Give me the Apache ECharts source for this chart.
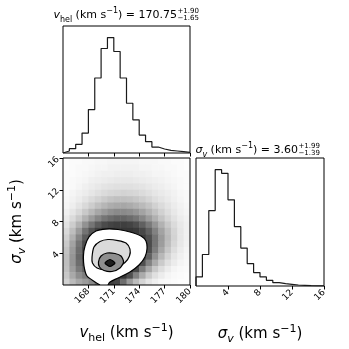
<!DOCTYPE html>
<html>
<head>
<meta charset="utf-8">
<script src="https://cdn.jsdelivr.net/npm/echarts@6/dist/echarts.min.js"></script>
<style>
  html, body { margin: 0; padding: 0; background: #fff; }
  #chart { width: 349px; height: 349px; }
</style>
</head>
<body>
<div id="chart"></div>
<script>
// bin edges (20 bins each, as in the corner plot)
const vEdges = [165, 165.75, 166.5, 167.25, 168, 168.75, 169.5, 170.25, 171, 171.75, 172.5,
  173.25, 174, 174.75, 175.5, 176.25, 177, 177.75, 178.5, 179.25, 180];
const sEdges = [0, 0.8, 1.6, 2.4, 3.2, 4, 4.8, 5.6, 6.4, 7.2, 8,
  8.8, 9.6, 10.4, 11.2, 12, 12.8, 13.6, 14.4, 15.2, 16];

// marginal histograms (relative counts)
const vCounts = [6, 13, 26, 60, 131, 226, 315, 348, 306, 226, 150, 100, 54, 34, 18, 12, 8, 6, 4, 2];
const sCounts = [27, 94, 225, 347, 336, 257, 177, 113, 67, 40, 27, 17, 10, 7, 5, 3, 2, 1, 0.5, 0.3];

const vTicks = [168, 171, 174, 177, 180];
const sTicks = [4, 8, 12, 16];

// point cloud density (0-100), rows from top (sigma 15.2-16) to bottom (sigma 0-0.8)
const cloudDensity = [
  [1, 2, 2, 3, 3, 4, 4, 5, 5, 5, 5, 5, 4, 4, 4, 3, 3, 2, 2, 1],
  [1, 2, 3, 3, 4, 5, 5, 6, 6, 6, 6, 6, 5, 5, 4, 4, 3, 3, 2, 1],
  [2, 2, 3, 4, 5, 6, 7, 7, 8, 8, 8, 7, 7, 6, 5, 5, 4, 3, 2, 2],
  [2, 3, 4, 5, 7, 8, 9, 10, 11, 11, 11, 10, 9, 8, 7, 6, 5, 4, 3, 2],
  [2, 3, 5, 7, 9, 11, 13, 14, 15, 15, 15, 14, 13, 11, 9, 8, 6, 5, 3, 2],
  [3, 5, 7, 9, 12, 15, 17, 19, 20, 21, 20, 19, 17, 15, 12, 10, 8, 6, 4, 3],
  [4, 6, 9, 13, 17, 21, 25, 28, 30, 30, 29, 27, 24, 20, 16, 13, 10, 7, 5, 3],
  [5, 8, 13, 18, 24, 30, 35, 39, 41, 42, 40, 37, 33, 28, 22, 17, 13, 9, 6, 4],
  [7, 12, 18, 26, 34, 42, 48, 53, 56, 56, 54, 50, 44, 37, 29, 22, 16, 11, 7, 5],
  [10, 17, 26, 37, 48, 58, 66, 71, 74, 74, 71, 66, 58, 48, 38, 28, 20, 14, 9, 6],
  [14, 24, 37, 52, 66, 78, 86, 90, 92, 92, 90, 85, 76, 64, 50, 37, 26, 17, 11, 7],
  [18, 31, 48, 67, 82, 92, 96, 96, 96, 96, 96, 94, 88, 76, 60, 44, 31, 20, 12, 7],
  [22, 38, 58, 78, 92, 96, 96, 96, 96, 96, 96, 96, 94, 84, 66, 48, 33, 21, 12, 7],
  [26, 44, 66, 86, 96, 96, 96, 96, 96, 96, 96, 96, 96, 86, 66, 47, 31, 19, 11, 6],
  [29, 48, 70, 90, 96, 96, 96, 96, 96, 96, 96, 96, 96, 84, 62, 42, 27, 16, 9, 5],
  [31, 50, 72, 90, 96, 96, 96, 96, 96, 96, 96, 96, 96, 76, 52, 34, 21, 12, 7, 4],
  [31, 50, 70, 86, 96, 96, 96, 96, 96, 96, 96, 96, 84, 60, 40, 25, 15, 9, 5, 3],
  [30, 47, 64, 76, 92, 96, 96, 96, 96, 96, 96, 88, 62, 42, 26, 16, 9, 5, 3, 2],
  [27, 41, 54, 62, 76, 90, 96, 96, 96, 96, 84, 60, 40, 25, 15, 9, 5, 3, 2, 1],
  [22, 33, 42, 48, 56, 70, 86, 92, 88, 70, 48, 32, 20, 12, 7, 4, 3, 2, 1, 1]
];

// contours [v_hel, sigma_v], 2 / 1.5 / 1 / 0.5 sigma
const contour20 = [[169.37, 0], [168.78, 0.38], [167.83, 1.13], [167.48, 2.39], [167.42, 3.78],
  [167.6, 4.91], [168.07, 6.05], [168.9, 6.8], [170.08, 7.05], [171.5, 6.99], [172.91, 6.68],
  [174.21, 6.17], [174.8, 5.54], [174.92, 4.53], [174.68, 3.53], [173.98, 2.52], [172.91, 1.64],
  [171.5, 0.88], [170.55, 0.38], [170.31, 0]];
const contour15 = [[168.43, 3.53], [168.66, 4.79], [169.37, 5.48], [170.31, 5.73], [171.5, 5.6],
  [172.44, 5.29], [172.91, 4.53], [172.85, 3.65], [172.32, 2.83], [171.26, 2.14], [170.08, 1.89],
  [169.02, 2.14], [168.48, 2.77]];
const contour10 = [[169.19, 2.9], [169.49, 3.65], [170.2, 4.03], [171.14, 3.97], [171.85, 3.65],
  [172.15, 2.9], [171.73, 2.14], [170.79, 1.7], [169.84, 1.83], [169.31, 2.27]];
const contour05 = [[169.96, 2.77], [170.55, 3.21], [171.14, 2.77], [170.55, 2.33]];

const contours = [contour20, contour15, contour10, contour05];
const fillColors = ['#ffffff', '#dadada', '#8e8e8e', '#1e1e1e'];

function stepLine(edges, counts) {
  const pts = [[edges[0], 0]];
  counts.forEach((c, i) => { pts.push([edges[i], c], [edges[i + 1], c]); });
  pts.push([edges[edges.length - 1], 0]);
  return pts;
}

const cells = [];
cloudDensity.forEach((row, r) => {
  const j = cloudDensity.length - 1 - r;
  row.forEach((d, i) => cells.push([vEdges[i], vEdges[i + 1], sEdges[j], sEdges[j + 1], d]));
});

const font = 'DejaVu Sans';
const tickStyle = { show: true, inside: false, length: 3.5, lineStyle: { color: '#000', width: 1 } };
const labelStyle = { rotate: 45, fontSize: 9, color: '#000', fontFamily: font, margin: 5 };

function nameRich(size) {
  const sub = Math.round(size * 0.7);
  return {
    i: { fontStyle: 'italic', fontSize: size, fontFamily: font, color: '#000', lineHeight: size + 6 },
    n: { fontSize: size, fontFamily: font, color: '#000', lineHeight: size + 6 },
    s: { fontSize: sub, fontFamily: font, color: '#000', verticalAlign: 'bottom', lineHeight: sub },
    si: { fontSize: sub, fontStyle: 'italic', fontFamily: font, color: '#000', verticalAlign: 'bottom', lineHeight: sub },
    p: { fontSize: sub, fontFamily: font, color: '#000', verticalAlign: 'top', lineHeight: sub }
  };
}

const chart = echarts.init(document.getElementById('chart'));
const vMax = Math.max(...vCounts) * 1.1;
const sMax = Math.max(...sCounts) * 1.1;

const option = {
  animation: false,
  backgroundColor: '#fff',
  grid: [
    { left: 63, top: 26, width: 127, height: 127, show: true, borderColor: '#000', borderWidth: 1 },
    { left: 63, top: 158, width: 127, height: 127, show: true, borderColor: '#000', borderWidth: 1, z: 10 },
    { left: 196, top: 158, width: 128, height: 128, show: true, borderColor: '#000', borderWidth: 1 }
  ],
  xAxis: [
    { gridIndex: 0, type: 'value', min: 165, max: 180, interval: 3, splitLine: { show: false },
      axisLine: { show: false }, axisTick: Object.assign({ customValues: vTicks }, tickStyle),
      axisLabel: { show: false } },
    { gridIndex: 1, type: 'value', min: 165, max: 180, interval: 3, splitLine: { show: false },
      axisLine: { show: false }, axisTick: Object.assign({ customValues: vTicks }, tickStyle),
      axisLabel: Object.assign({ customValues: vTicks }, labelStyle),
      name: '{i|v}{s|hel}{n| (km s}{p|−1}{n|)}', nameLocation: 'middle', nameGap: 38,
      nameTextStyle: { rich: nameRich(15) } },
    { gridIndex: 2, type: 'value', min: 0, max: 16, interval: 4, splitLine: { show: false },
      axisLine: { show: false }, axisTick: Object.assign({ customValues: sTicks }, tickStyle),
      axisLabel: Object.assign({ customValues: sTicks }, labelStyle),
      name: '{i|σ}{si|v}{n| (km s}{p|−1}{n|)}', nameLocation: 'middle', nameGap: 38,
      nameTextStyle: { rich: nameRich(15) } }
  ],
  yAxis: [
    { gridIndex: 0, type: 'value', min: 0, max: vMax, show: false },
    { gridIndex: 1, type: 'value', min: 0, max: 16, interval: 4, splitLine: { show: false },
      axisLine: { show: false }, axisTick: Object.assign({ customValues: sTicks }, tickStyle),
      axisLabel: Object.assign({ customValues: sTicks }, labelStyle),
      name: '{i|σ}{si|v}{n| (km s}{p|−1}{n|)}', nameLocation: 'middle', nameGap: 35, nameRotate: 90,
      nameTextStyle: { rich: nameRich(15) } },
    { gridIndex: 2, type: 'value', min: 0, max: sMax, show: false }
  ],
  graphic: [
    { type: 'text', x: 177, y: 15, z: 100, style: {
      text: '{i|v}{s|hel}{n| (km s}{p|−1}{n|) = 170.75}', rich: nameRich(11),
      align: 'right', verticalAlign: 'middle' } },
    { type: 'text', x: 177.5, y: 11.5, z: 100, style: { text: '+1.90', fontSize: 7, fontFamily: font,
      fill: '#000', align: 'left', verticalAlign: 'middle' } },
    { type: 'text', x: 177.5, y: 18, z: 100, style: { text: '−1.65', fontSize: 7, fontFamily: font,
      fill: '#000', align: 'left', verticalAlign: 'middle' } },
    { type: 'text', x: 298, y: 150, z: 100, style: {
      text: '{i|σ}{si|v}{n| (km s}{p|−1}{n|) = 3.60}', rich: nameRich(11),
      align: 'right', verticalAlign: 'middle' } },
    { type: 'text', x: 298.5, y: 146.5, z: 100, style: { text: '+1.99', fontSize: 7, fontFamily: font,
      fill: '#000', align: 'left', verticalAlign: 'middle' } },
    { type: 'text', x: 298.5, y: 153, z: 100, style: { text: '−1.39', fontSize: 7, fontFamily: font,
      fill: '#000', align: 'left', verticalAlign: 'middle' } }
  ],
  series: [
    { type: 'line', xAxisIndex: 0, yAxisIndex: 0, data: stepLine(vEdges, vCounts), symbol: 'none',
      lineStyle: { color: '#1a1a1a', width: 1.2 } },
    { type: 'line', xAxisIndex: 2, yAxisIndex: 2, data: stepLine(sEdges, sCounts), symbol: 'none',
      lineStyle: { color: '#1a1a1a', width: 1.2 } },
    // point cloud, drawn as density cells
    { type: 'custom', xAxisIndex: 1, yAxisIndex: 1, data: cells, silent: true, clip: true, z: 1,
      encode: { x: [0, 1], y: [2, 3] },
      renderItem: (params, api) => {
        const p0 = api.coord([api.value(0), api.value(3)]);
        const p1 = api.coord([api.value(1), api.value(2)]);
        const g = Math.round(255 * (1 - Math.min(1, api.value(4) / 100) * 0.82));
        return { type: 'rect',
          shape: { x: p0[0], y: p0[1], width: p1[0] - p0[0] + 0.5, height: p1[1] - p0[1] + 0.5 },
          style: { fill: 'rgb(' + g + ',' + g + ',' + g + ')' } };
      } },
    // filled contours + contour lines
    { type: 'custom', xAxisIndex: 1, yAxisIndex: 1, data: contours.map((c, i) => [i]),
      silent: true, clip: true, z: 2,
      renderItem: (params, api) => {
        const i = params.dataIndex;
        const pts = contours[i].map(p => api.coord(p));
        return { type: 'group', children: [
          { type: 'polygon', shape: { points: pts, smooth: 0.25 }, style: { fill: fillColors[i] } },
          { type: i === 0 ? 'polyline' : 'polygon', shape: { points: pts, smooth: 0.25 },
            style: { fill: 'none', stroke: '#000', lineWidth: 1.2 } }
        ] };
      } }
  ]
};
chart.setOption(option);
</script>
</body>
</html>
